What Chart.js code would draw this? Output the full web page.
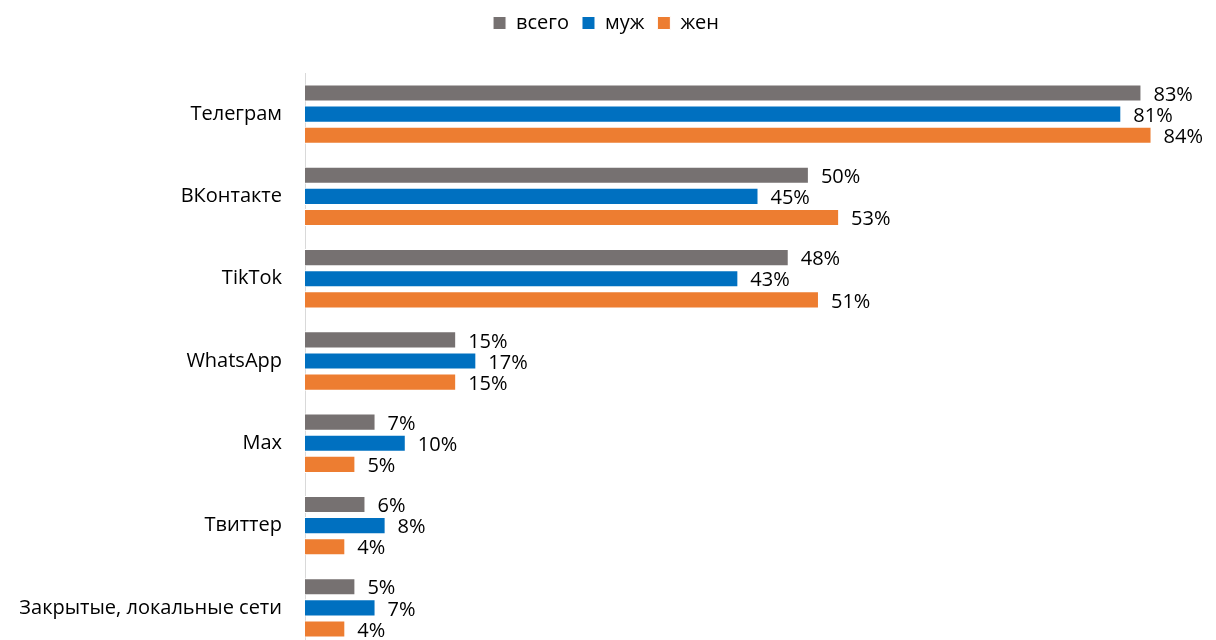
<!DOCTYPE html>
<html>
<head>
<meta charset="utf-8">
<script src="https://cdn.jsdelivr.net/npm/chart.js@4"></script>
<style>
  html, body { margin: 0; padding: 0; background: #fff; overflow: hidden; }
</style>
</head>
<body>
<!-- taller than the window: the last group runs past the bottom edge, as in the original -->
<canvas id="chart" width="1216" height="676"></canvas>
<script>
// Social networks usage, share of respondents
const categories = ['Телеграм', 'ВКонтакте', 'TikTok', 'WhatsApp', 'Max', 'Твиттер', 'Закрытые, локальные сети'];
const seriesNames = ['всего', 'муж', 'жен'];
const totalValues = [83, 50, 48, 15, 7, 6, 5];
const maleValues = [81, 45, 43, 17, 10, 8, 7];
const femaleValues = [84, 53, 51, 15, 5, 4, 4];

const colors = ['#767171', '#0070C0', '#ED7D31'];
const FONT = '"Open Sans", "Noto Sans", sans-serif';

// draw value labels at the end of each bar
const barLabels = {
    id: 'barLabels',
    afterDatasetsDraw(chart) {
        const ctx = chart.ctx;
        ctx.save();
        ctx.font = '20px ' + FONT;
        ctx.fillStyle = '#000';
        ctx.textAlign = 'left';
        ctx.textBaseline = 'middle';
        chart.data.datasets.forEach((ds, i) => {
            chart.getDatasetMeta(i).data.forEach((bar, j) => {
                ctx.fillText(ds.data[j] + '%', bar.x + 12, bar.y + 2);
            });
        });
        ctx.restore();
    }
};

new Chart(document.getElementById('chart'), {
    type: 'bar',
    data: {
        labels: categories,
        datasets: [
            { label: seriesNames[0], data: totalValues, backgroundColor: colors[0] },
            { label: seriesNames[1], data: maleValues, backgroundColor: colors[1] },
            { label: seriesNames[2], data: femaleValues, backgroundColor: colors[2] }
        ]
    },
    options: {
        indexAxis: 'y',
        responsive: false,
        animation: false,
        datasets: {
            bar: {
                categoryPercentage: 0.77,
                barPercentage: 0.81,
                borderColor: '#ffffff',
                borderWidth: 1
            }
        },
        layout: { padding: { left: 0, right: 4, top: 0, bottom: 0 } },
        plugins: {
            legend: {
                position: 'top',
                labels: {
                    color: '#000',
                    font: { family: FONT, size: 20 },
                    boxWidth: 13,
                    boxHeight: 13,
                    padding: 13
                }
            },
            tooltip: { enabled: false }
        },
        scales: {
            x: {
                position: 'top',
                min: 0,
                max: 90,
                grid: { display: false },
                border: { display: false },
                ticks: { display: false },
                // empty band between legend and bars
                afterFit(scale) { scale.height = 30; }
            },
            y: {
                grid: { display: false },
                border: { color: '#D9D9D9', width: 1 },
                ticks: {
                    color: '#000',
                    font: { family: FONT, size: 20 },
                    padding: 15
                },
                afterFit(scale) { scale.width = 305; }
            }
        }
    },
    plugins: [barLabels]
});
</script>
</body>
</html>
